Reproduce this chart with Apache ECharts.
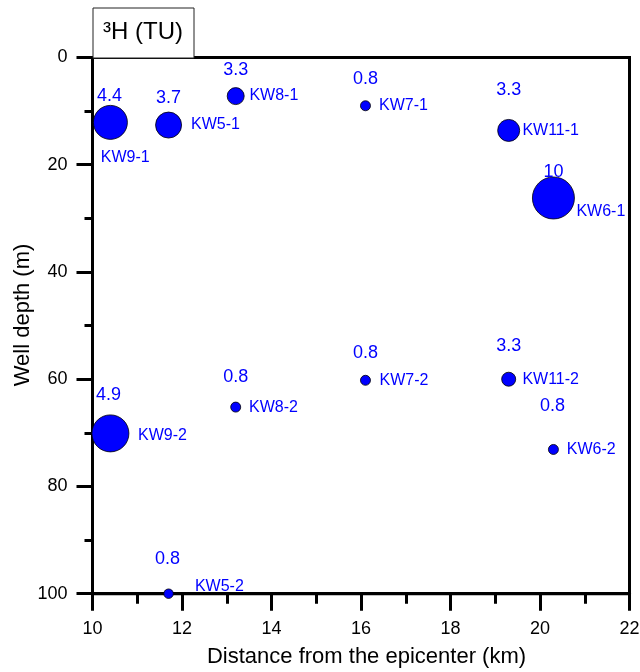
<!DOCTYPE html>
<html><head><meta charset="utf-8">
<script src="https://cdn.jsdelivr.net/npm/echarts@6/dist/echarts.min.js"></script>
<style>html,body{margin:0;padding:0;background:#fff}#c{width:640px;height:672px}</style>
</head><body><div id="c"></div>
<script>
// ---- data ----
const wells    = ['KW9-1','KW5-1','KW8-1','KW7-1','KW11-1','KW6-1','KW9-2','KW8-2','KW7-2','KW11-2','KW6-2','KW5-2'];
const distance = [10.4, 11.7, 13.2, 16.1, 19.3, 20.3, 10.4, 13.2, 16.1, 19.3, 20.3, 11.7];
const depth    = [12.1, 12.6, 7.2, 9.0, 13.6, 26.2, 70.1, 65.2, 60.2, 60.0, 73.1, 100];
const tritium  = [4.4, 3.7, 3.3, 0.8, 3.3, 10, 4.9, 0.8, 0.8, 3.3, 0.8, 0.8];
const xTickValues = [10, 12, 14, 16, 18, 20, 22];
const yTickValues = [0, 20, 40, 60, 80, 100];
const xTitle = 'Distance from the epicenter (km)';
const yTitle = 'Well depth (m)';

// ---- styles (kept apart from the data) ----
const symbolDiameters   = [34, 26, 17, 10, 22, 42, 37, 10, 10, 14, 10, 9.5];
const nameLabelOffsets  = [[-9.6,35.5],[22.5,0],[13.7,-1],[13.6,-0.5],[13.7,0.4],[23,13.3],[27.6,2.7],[13.3,0],[14,0.4],[13.7,0],[13.3,0],[26.3,-7.6]];
const valueLabelOffsets = [[-1,-26.5],[0,-27],[0,-26.5],[0,-26.7],[0,-40],[0,-26],[-2,-38],[0,-30],[0,-27],[0,-33.3],[-1,-43],[-1,-34.6]];

const FONT = "'Liberation Sans', Arial, sans-serif";
const BLUE = '#0000ff';

const circleData = wells.map((w, i) => ({
  name: w,
  value: [distance[i], depth[i], tritium[i]],
  symbolSize: symbolDiameters[i],
  label: {offset: nameLabelOffsets[i]}
}));
const valueData = wells.map((w, i) => ({
  name: w,
  value: [distance[i], depth[i], tritium[i]],
  label: {offset: valueLabelOffsets[i]}
}));

const chart = echarts.init(document.getElementById('c'), null, {renderer: 'canvas'});
chart.setOption({
  animation: false,
  backgroundColor: '#fff',
  textStyle: {fontFamily: FONT},
  grid: {left: 92.5, right: 10.5, top: 57.5, bottom: 78.3, show: true, containLabel: false,
         outerBoundsMode: 'none',
         borderColor: '#000', borderWidth: 3, backgroundColor: 'transparent'},
  xAxis: {
    type: 'value', min: xTickValues[0], max: xTickValues[xTickValues.length - 1], interval: 2,
    position: 'bottom',
    name: xTitle, nameLocation: 'middle', nameGap: 52,
    nameTextStyle: {fontSize: 22, color: '#000', fontFamily: FONT, padding: [0, 0, 0, 11]},
    axisLine: {show: true, onZero: false, lineStyle: {color: '#000', width: 3}},
    axisTick: {show: true, inside: false, length: 17, lineStyle: {color: '#000', width: 3}},
    minorTick: {show: true, splitNumber: 2, length: 10, lineStyle: {color: '#000', width: 3}},
    splitLine: {show: false}, minorSplitLine: {show: false},
    axisLabel: {fontSize: 18, color: '#000', margin: 26, fontFamily: FONT}
  },
  yAxis: {
    type: 'value', inverse: true, min: yTickValues[0], max: yTickValues[yTickValues.length - 1], interval: 20,
    position: 'left',
    axisLine: {show: true, onZero: false, lineStyle: {color: '#000', width: 3}},
    axisTick: {show: true, inside: false, length: 16, lineStyle: {color: '#000', width: 3}},
    minorTick: {show: true, splitNumber: 2, length: 8, lineStyle: {color: '#000', width: 3}},
    splitLine: {show: false}, minorSplitLine: {show: false},
    axisLabel: {fontSize: 18, color: '#000', margin: 25, fontFamily: FONT}
  },
  series: [
    {
      type: 'scatter', name: 'wells', data: circleData, z: 3,
      itemStyle: {color: BLUE, borderColor: '#000', borderWidth: 0.8, opacity: 1},
      label: {show: true, position: 'inside', align: 'left', verticalAlign: 'middle',
              formatter: p => p.name, color: BLUE, fontSize: 16, fontFamily: FONT,
              textBorderWidth: 0, textBorderColor: 'transparent'},
      emphasis: {disabled: true}
    },
    {
      type: 'scatter', name: 'tritium', data: valueData, z: 4, symbolSize: 1, silent: true,
      itemStyle: {color: BLUE, opacity: 0},
      label: {show: true, position: 'inside', align: 'center', verticalAlign: 'middle',
              formatter: p => String(p.value[2]), color: BLUE, fontSize: 18, fontFamily: FONT,
              opacity: 1, textBorderWidth: 0, textBorderColor: 'transparent'},
      emphasis: {disabled: true}
    }
  ],
  graphic: [
    {type: 'rect', left: 92.5, top: 7.5, z: 10,
     shape: {width: 101, height: 50}, style: {fill: '#fff', stroke: '#222', lineWidth: 1}},
    {type: 'text', x: 143, y: 32, z: 11,
     style: {text: '³H (TU)', fill: '#000', font: '24px ' + FONT, align: 'center', verticalAlign: 'middle'}},
    {type: 'text', x: 23, y: 315, rotation: Math.PI / 2, z: 11,
     style: {text: yTitle, fill: '#000', font: '22px ' + FONT, align: 'center', verticalAlign: 'middle'}}
  ]
});
</script>
</body></html>
